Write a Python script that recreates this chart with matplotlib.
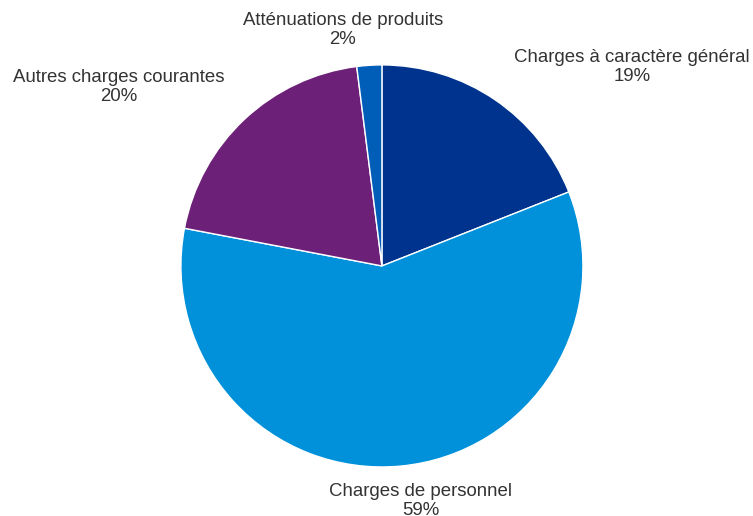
import matplotlib as mpl
mpl.use('Agg')
import matplotlib.pyplot as plt

# operating expenses breakdown
categories = ["Charges à caractère général", "Charges de personnel",
              "Autres charges courantes", "Atténuations de produits"]
shares = [19, 59, 20, 2]
colors = ["#00338D", "#0091DA", "#6D2077", "#005EB8"]

# label centres, in units of the pie radius
label_pos = [(1.244, 0.99), (0.194, -1.17), (-1.308, 0.89), (-0.194, 1.174)]

plt.rcParams['font.family'] = ['Liberation Sans', 'DejaVu Sans']

fig = plt.figure(figsize=(7.53, 5.16), dpi=100)
ax = fig.add_axes([0, 0, 1, 1])
ax.pie(shares, colors=colors, startangle=90, counterclock=False,
       wedgeprops=dict(edgecolor='white', linewidth=1))
for name, val, (x, y) in zip(categories, shares, label_pos):
    ax.text(x, y, "%s\n%d%%" % (name, val), ha='center', va='center',
            fontsize=13.4, color='#333333', linespacing=1.2)
ax.set_xlim(-1.900, 1.846)
ax.set_ylim(-1.244, 1.323)
ax.set_aspect('equal')
ax.axis('off')
fig.savefig("out.png", dpi=100)
